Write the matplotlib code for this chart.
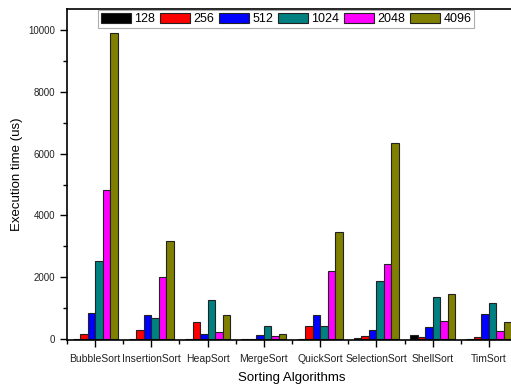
import numpy as np
import matplotlib.pyplot as plt
from matplotlib.ticker import MultipleLocator

plt.rcParams['font.family'] = ['Liberation Sans', 'DejaVu Sans']

algorithms = ['BubbleSort', 'InsertionSort', 'HeapSort', 'MergeSort',
              'QuickSort', 'SelectionSort', 'ShellSort', 'TimSort']
sizes = ['128', '256', '512', '1024', '2048', '4096']

t128 = [20, 5, 5, 3, 10, 50, 120, 5]
t256 = [180, 310, 570, 5, 440, 95, 80, 85]
t512 = [850, 765, 170, 120, 765, 290, 400, 800]
t1024 = [2520, 680, 1250, 420, 440, 1880, 1370, 1155]
t2048 = [4820, 2000, 215, 100, 2210, 2420, 590, 250]
t4096 = [9890, 3180, 765, 170, 3460, 6340, 1450, 550]

series = [t128, t256, t512, t1024, t2048, t4096]
colors = ['#000000', '#ff0000', '#0000ff', '#008080', '#ff00ff', '#808000']

fig = plt.figure(figsize=(5.11, 3.86), dpi=100)
ax = fig.add_axes([0.131, 0.119, 0.881, 0.858])

x = np.arange(len(algorithms))
w = 0.8 / len(sizes)
for i, (vals, c) in enumerate(zip(series, colors)):
    ax.bar(x - 0.4 + w * (i + 0.5), vals, w, color=c, edgecolor='#222222',
           linewidth=0.8, label=sizes[i])

ax.set_xlim(-0.5, len(algorithms) - 0.5)
ax.set_ylim(-30, 10680)
ax.set_xticks(x)
ax.set_xticklabels(algorithms, fontsize=7.5, color='#222222')
ax.xaxis.set_minor_locator(MultipleLocator(1, offset=0.5))
ax.yaxis.set_major_locator(MultipleLocator(2000))
ax.yaxis.set_minor_locator(MultipleLocator(1000))
ax.tick_params(axis='y', labelsize=7, labelcolor='#222222')
ax.tick_params(axis='x', pad=5)
ax.tick_params(which='major', length=5, width=1)
ax.tick_params(which='minor', length=3, width=1)
for s in ax.spines.values():
    s.set_linewidth(1.2)

ax.set_xlabel('Sorting Algorithms', fontsize=9.5, labelpad=6)
ax.set_ylabel('Execution time (us)', fontsize=9.5, labelpad=4)

leg = ax.legend(ncol=6, loc='upper center', bbox_to_anchor=(0.487, 1.0),
                fontsize=9, frameon=True, fancybox=False, edgecolor='#999999',
                handlelength=2.4, handleheight=0.9, handletextpad=0.3,
                columnspacing=0.35, borderpad=0.2, borderaxespad=0.1)
leg.get_frame().set_linewidth(0.8)

fig.savefig('out.png', dpi=100)
